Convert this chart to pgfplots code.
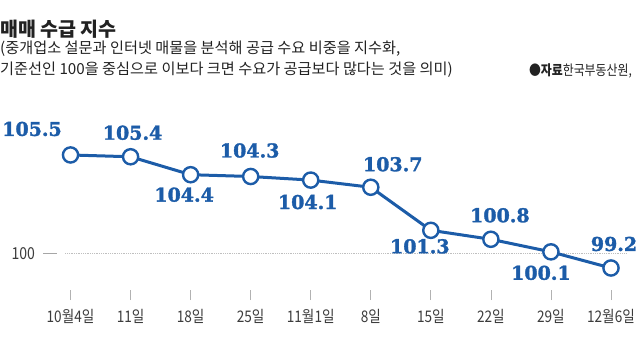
\documentclass[border=0pt]{standalone}
\usepackage{pgfplots}
\pgfplotsset{compat=1.18}
\usepackage{fontspec}
\setmainfont{Noto Sans CJK KR}
\newfontfamily\kr{Noto Sans CJK KR}
\newfontfamily\krc[FakeStretch=0.85]{Noto Sans CJK KR}
\newfontfamily\numfont[FakeBold=1.6]{DejaVu Serif}
\definecolor{lineblue}{RGB}{28,92,168}
\definecolor{txt}{RGB}{34,34,34}
\definecolor{tickgray}{RGB}{60,60,60}
\begin{document}
\begin{tikzpicture}
\useasboundingbox (0,0) rectangle (640bp,341bp);
\node[anchor=base west, inner sep=0, text=txt] at (0bp,304bp) {\kr\bfseries\fontsize{19.5bp}{21bp}\selectfont 매매 수급 지수};
\node[anchor=base west, inner sep=0, text=txt] at (0bp,287bp) {\kr\fontsize{15.2bp}{17bp}\selectfont (중개업소 설문과 인터넷 매물을 분석해 공급 수요 비중을 지수화,};
\node[anchor=base west, inner sep=0, text=txt] at (0bp,266bp) {\kr\fontsize{15.2bp}{17bp}\selectfont 기준선인 100을 중심으로 이보다 크면 수요가 공급보다 많다는 것을 의미)};
\node[anchor=base east, inner sep=0, text=txt] at (632bp,265bp) {\krc\fontsize{14bp}{16bp}\selectfont ●\bfseries 자료\mdseries 한국부동산원,};
\begin{axis}[
  at={(40.5bp,46bp)}, anchor=south west,
  scale only axis, width=597.5bp, height=149bp,
  xmin=-0.5, xmax=9.45, ymin=97.695, ymax=106,
  axis x line*=bottom, axis y line*=left,
  axis line style={draw=none},
  tick align=center,
  major tick length=10bp,
  xtick={0,...,9},
  xticklabels={10월4일,11일,18일,25일,11월1일,8일,15일,22일,29일,12월6일},
  ytick={100}, yticklabels={100},
  /pgf/number format/assume math mode=true,
  x tick style={draw=gray!60, line width=0.7bp},
  y tick style={draw=none},
  xticklabel style={font=\krc\fontsize{16bp}{18bp}\selectfont, text=tickgray, yshift=-6bp},
  yticklabel style={font=\krc\fontsize{16.5bp}{18bp}\selectfont, text=tickgray, xshift=3bp},
  clip=false,
]
\addplot[gray!50, densely dotted, line width=0.8bp, forget plot] coordinates {(-0.09,100) (9.25,100)};
\addplot[gray!70, line width=0.7bp, forget plot] coordinates {(-0.458,100) (-0.225,100)};
\addplot[
  color=lineblue, line width=3bp,
  mark=*, mark size=7.6bp,
  mark options={fill=white, draw=lineblue, line width=2.4bp},
  visualization depends on={value \thisrow{dx} \as \dx},
  visualization depends on={value \thisrow{dy} \as \dy},
  point meta=explicit symbolic,
  nodes near coords,
  every node near coord/.append style={anchor=center, xshift=\dx bp, yshift=\dy bp,
     text=lineblue, font=\numfont\bfseries\fontsize{19bp}{21bp}\selectfont, inner sep=0},
] table[meta=lab] {
x y dx dy lab
0 105.5 -38.5 26 105.5
1 105.4 2 24 105.4
2 104.4 -6.5 -20 104.4
3 104.3 -1 26 104.3
4 104.1 -3 -22 104.1
5 103.7 22 23 103.7
6 101.3 -11 -16 101.3
7 100.8 9 24 100.8
8 100.1 -10 -21 100.1
9 99.2 3 24 99.2
};
\end{axis}
\end{tikzpicture}
\end{document}
